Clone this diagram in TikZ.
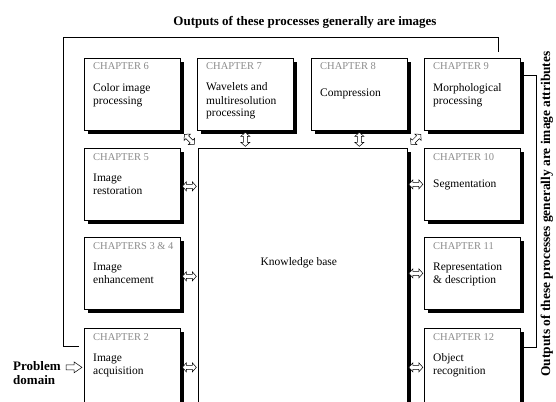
\documentclass[tikz,border=0pt]{standalone}
\usepackage{fontspec}
\setmainfont{Liberation Serif}
\usetikzlibrary{calc,shadows}

\definecolor{labelgray}{gray}{0.55}

\begin{document}
\begin{tikzpicture}[x=1pt, y=-1pt,
  chbox/.style={draw, line width=0.7pt, fill=white, anchor=north west,
    inner sep=0pt, minimum width=96pt, minimum height=72pt,
    drop shadow={shadow xshift=4pt, shadow yshift=-4pt, fill=black, opacity=1}},
  chlabel/.style={anchor=base west, inner sep=0pt, text=labelgray,
    font=\fontsize{10.5}{12}\selectfont},
  chtext/.style={anchor=base west, inner sep=0pt, align=left,
    font=\fontsize{11.5}{13}\selectfont},
  headtext/.style={inner sep=0pt, font=\fontsize{13}{14}\selectfont\bfseries},
  bracket/.style={line width=0.7pt},
  arrowline/.style={draw, fill=white, line width=0.5pt, line join=miter},
  dblarr/.pic={\path[arrowline] (-7,0) -- (-3,-4.5) -- (-3,-2) -- (3,-2) -- (3,-4.5)
      -- (7,0) -- (3,4.5) -- (3,2) -- (-3,2) -- (-3,4.5) -- cycle;},
  onearr/.pic={\path[arrowline] (-8,-2.5) -- (0,-2.5) -- (0,-5.5) -- (8,0)
      -- (0,5.5) -- (0,2.5) -- (-8,2.5) -- cycle;}
]
\useasboundingbox (0,0) rectangle (556,401);
\fill[white] (0,0) rectangle (556,401);
\clip (0,0) rectangle (556,401);

% headings
\node[headtext] (imgs) at (305,22) {Outputs of these processes generally are images};
\node[headtext, font=\fontsize{13.4}{15}\selectfont\bfseries, rotate=90] (attr) at (547,214)
  {Outputs of these processes generally are image attributes};

% top row
\node[chbox] (c6) at (84,58) {};
\node[chbox] (c7) at (197,58) {};
\node[chbox] (c8) at (311,58) {};
\node[chbox] (c9) at (424,58) {};
% left column
\node[chbox] (c5) at (84,148) {};
\node[chbox] (c34) at (84,237) {};
\node[chbox, minimum height=78pt] (c2) at (84,328) {};
% knowledge base
\node[chbox, minimum width=209pt, minimum height=258pt] (kb) at (198,148) {};
% right column
\node[chbox] (c10) at (424,148) {};
\node[chbox] (c11) at (424,237) {};
\node[chbox, minimum height=78pt] (c12) at (424,328) {};

% chapter labels
\node[chlabel] (c6l)  at ($(c6.north west)+(9,12)$)  {CHAPTER 6};
\node[chlabel] (c7l)  at ($(c7.north west)+(9,12)$)  {CHAPTER 7};
\node[chlabel] (c8l)  at ($(c8.north west)+(9,12)$)  {CHAPTER 8};
\node[chlabel] (c9l)  at ($(c9.north west)+(9,12)$)  {CHAPTER 9};
\node[chlabel] (c5l)  at ($(c5.north west)+(9,12)$)  {CHAPTER 5};
\node[chlabel] (c34l) at ($(c34.north west)+(9,12)$) {CHAPTERS 3 \& 4};
\node[chlabel] (c2l)  at ($(c2.north west)+(9,12)$)  {CHAPTER 2};
\node[chlabel] (c10l) at ($(c10.north west)+(9,12)$) {CHAPTER 10};
\node[chlabel] (c11l) at ($(c11.north west)+(9,12)$) {CHAPTER 11};
\node[chlabel] (c12l) at ($(c12.north west)+(9,12)$) {CHAPTER 12};

% chapter titles (anchored at the baseline of their last line)
\node[chtext] (c6t)  at ($(c6.north west)+(9,46)$)  {Color image\\processing};
\node[chtext] (c7t)  at ($(c7.north west)+(9,59)$)  {Wavelets and\\multiresolution\\processing};
\node[chtext] (c8t)  at ($(c8.north west)+(9,39)$)  {Compression};
\node[chtext] (c9t)  at ($(c9.north west)+(9,46)$)  {Morphological\\processing};
\node[chtext] (c5t)  at ($(c5.north west)+(9,46)$)  {Image\\restoration};
\node[chtext] (c34t) at ($(c34.north west)+(9,46)$) {Image\\enhancement};
\node[chtext] (c2t)  at ($(c2.north west)+(9,46)$)  {Image\\acquisition};
\node[chtext] (c10t) at ($(c10.north west)+(9,39)$) {Segmentation};
\node[chtext] (c11t) at ($(c11.north west)+(9,46)$) {Representation\\\& description};
\node[chtext] (c12t) at ($(c12.north west)+(9,46)$) {Object\\recognition};
\node[inner sep=0pt, font=\fontsize{11.5}{13}\selectfont] (kbt)
  at ($(kb.north)+(-4,115)$) {Knowledge base};

% problem domain input
\node[headtext, align=left, anchor=base west] (prob) at (13,384) {Problem\\domain};
\pic at ($(c2.west)+(-10,0)$) {onearr};

% links between the processing steps and the knowledge base
\pic[rotate=-45] at ($(c6.south east)!.5!(kb.north west)$) {dblarr};
\pic[rotate=90]  at ($(c7.south)!.5!(kb.north -| c7.south)$) {dblarr};
\pic[rotate=90]  at ($(c8.south)!.5!(kb.north -| c8.south)$) {dblarr};
\pic[rotate=45]  at ($(c9.south west)!.5!(kb.north east)$) {dblarr};
\pic at ($(c5.east)!.5!(kb.west |- c5.east)+(0,2)$)   {dblarr};
\pic at ($(c34.east)!.5!(kb.west |- c34.east)+(0,3)$) {dblarr};
\pic at ($(c2.east)!.5!(kb.west |- c2.east)$)         {dblarr};
\pic at ($(c10.west)!.5!(kb.east |- c10.west)$)       {dblarr};
\pic at ($(c11.west)!.5!(kb.east |- c11.west)$)       {dblarr};
\pic at ($(c12.west)!.5!(kb.east |- c12.west)$)       {dblarr};

% output brackets
\coordinate (imgsA) at (79,346);
\coordinate (imgsB) at (63,37);
\coordinate (imgsC) at (498,52);
\draw[bracket] (imgsA) -| (imgsB) -| (imgsC);
\coordinate (attrA) at (524,75);
\coordinate (attrB) at (536,347);
\coordinate (attrC) at (524,347);
\draw[bracket] (attrA) -| (attrB) -- (attrC);
\end{tikzpicture}
\end{document}
